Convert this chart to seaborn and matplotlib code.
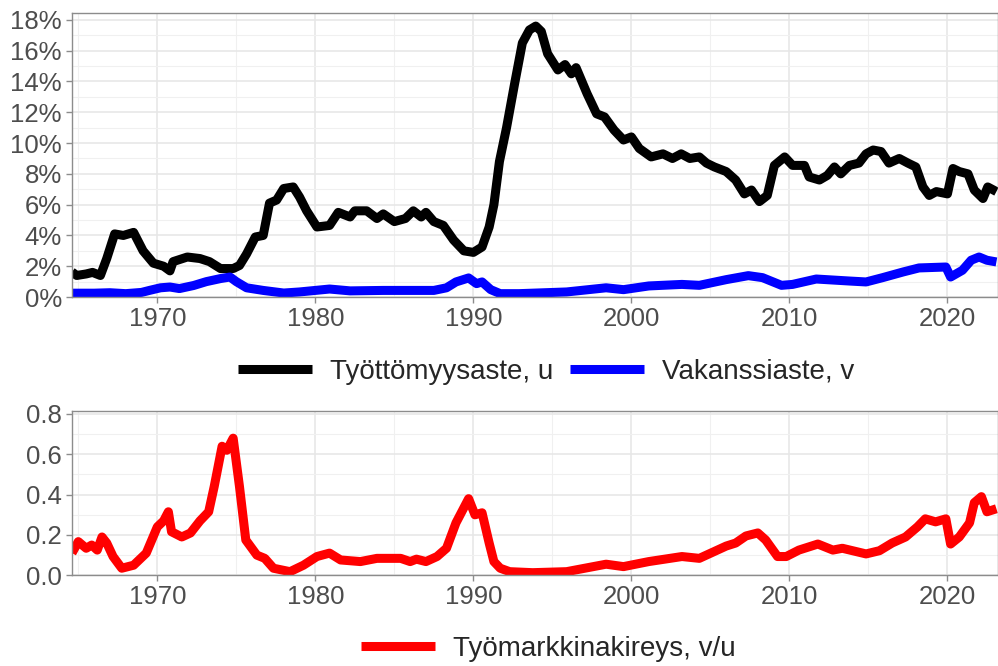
import matplotlib
matplotlib.use("Agg")
import matplotlib.pyplot as plt
import seaborn as sns
import numpy as np
import pandas as pd
from matplotlib.ticker import PercentFormatter, FormatStrFormatter, MultipleLocator

# ---------------- data ----------------
u_year = [1964.6, 1964.9, 1965.5, 1965.9, 1966.4, 1966.8, 1967.3, 1967.85, 1968.5, 1969.1,
          1969.75, 1970.4, 1970.8, 1971.0, 1971.9, 1972.7, 1973.3, 1974.0, 1974.8, 1975.2,
          1975.65, 1976.2, 1976.7, 1977.1, 1977.55, 1978.0, 1978.6, 1979.0, 1979.45, 1980.1,
          1980.9, 1981.45, 1982.2, 1982.5, 1983.25, 1983.9, 1984.3, 1985.0, 1985.7, 1986.2,
          1986.7, 1987.0, 1987.5, 1988.1, 1988.75, 1989.4, 1990.0, 1990.55, 1991.0, 1991.3,
          1991.65, 1992.1, 1992.6, 1993.1, 1993.55, 1993.95, 1994.3, 1994.7, 1995.35, 1995.8,
          1996.2, 1996.5, 1997.2, 1997.8, 1998.3, 1998.9, 1999.5, 2000.0, 2000.5, 2001.25,
          2002.0, 2002.6, 2003.15, 2003.7, 2004.3, 2004.75, 2005.25, 2006.0, 2006.6, 2007.15,
          2007.6, 2008.1, 2008.6, 2009.05, 2009.7, 2010.2, 2010.95, 2011.25, 2011.9, 2012.4,
          2012.85, 2013.25, 2013.8, 2014.4, 2014.85, 2015.3, 2015.8, 2016.3, 2016.95, 2017.5,
          2018.0, 2018.45, 2018.85, 2019.3, 2020.0, 2020.35, 2020.75, 2021.3, 2021.7, 2022.25,
          2022.55, 2023.1]
u_val = [1.63, 1.4, 1.5, 1.6, 1.4, 2.5, 4.1, 4.0, 4.2, 3.0,
         2.2, 2.0, 1.7, 2.3, 2.6, 2.5, 2.3, 1.85, 1.85, 2.05,
         2.8, 3.9, 4.0, 6.1, 6.3, 7.05, 7.15, 6.5, 5.6, 4.55,
         4.65, 5.5, 5.2, 5.6, 5.6, 5.1, 5.4, 4.9, 5.1, 5.6,
         5.2, 5.5, 4.9, 4.65, 3.7, 3.0, 2.9, 3.25, 4.55, 6.0,
         8.8, 11.0, 13.8, 16.5, 17.35, 17.6, 17.25, 15.8, 14.75, 15.1,
         14.5, 14.9, 13.2, 11.9, 11.7, 10.85, 10.2, 10.4, 9.65, 9.1,
         9.3, 9.0, 9.3, 9.0, 9.1, 8.7, 8.45, 8.15, 7.6, 6.7,
         6.95, 6.2, 6.6, 8.55, 9.1, 8.55, 8.55, 7.8, 7.6, 7.9,
         8.45, 8.0, 8.55, 8.7, 9.3, 9.55, 9.45, 8.7, 9.0, 8.7,
         8.45, 7.15, 6.6, 6.85, 6.7, 8.35, 8.15, 8.0, 6.95, 6.4,
         7.15, 6.85]

v_year = [1964.6, 1966.0, 1967.0, 1968.0, 1969.0, 1969.5, 1970.2, 1970.8, 1971.4, 1972.3,
          1973.1, 1974.0, 1974.6, 1975.0, 1975.65, 1976.7, 1978.0, 1979.0, 1980.9, 1982.2,
          1984.3, 1986.4, 1987.5, 1988.3, 1988.9, 1989.7, 1990.2, 1990.55, 1991.1, 1991.7,
          1992.9, 1995.9, 1998.4, 1999.5, 2001.1, 2003.2, 2004.3, 2006.0, 2007.4, 2008.3,
          2009.5, 2010.2, 2011.7, 2013.8, 2014.85, 2015.9, 2017.2, 2018.2, 2019.9, 2020.2,
          2020.95, 2021.5, 2022.0, 2022.5, 2023.1]
v_val = [0.25, 0.25, 0.28, 0.22, 0.3, 0.43, 0.6, 0.65, 0.55, 0.75,
         1.0, 1.2, 1.3, 1.0, 0.6, 0.43, 0.26, 0.33, 0.52, 0.4,
         0.43, 0.43, 0.43, 0.6, 0.98, 1.24, 0.87, 0.98, 0.48, 0.22,
         0.22, 0.33, 0.6, 0.48, 0.72, 0.82, 0.76, 1.13, 1.39, 1.26,
         0.76, 0.82, 1.17, 1.04, 0.98, 1.26, 1.63, 1.89, 1.95, 1.3,
         1.74, 2.39, 2.6, 2.39, 2.28]

r_year = [1964.6, 1965.0, 1965.5, 1965.85, 1966.2, 1966.5, 1966.8, 1967.2, 1967.75, 1968.5,
          1969.3, 1970.0, 1970.4, 1970.7, 1970.9, 1971.55, 1972.1, 1972.7, 1973.25, 1973.6,
          1974.1, 1974.4, 1974.8, 1975.2, 1975.6, 1976.3, 1976.8, 1977.35, 1978.4, 1979.25,
          1980.1, 1980.9, 1981.6, 1982.85, 1983.9, 1985.4, 1986.0, 1986.4, 1987.0, 1987.7,
          1988.3, 1988.9, 1989.7, 1990.1, 1990.55, 1991.0, 1991.3, 1991.7, 1992.3, 1993.75,
          1995.9, 1998.4, 1999.5, 2001.1, 2003.2, 2004.3, 2006.0, 2006.6, 2007.25, 2008.0,
          2008.5, 2009.25, 2009.8, 2010.6, 2011.8, 2012.75, 2013.35, 2014.85, 2015.7, 2016.5,
          2017.35, 2018.1, 2018.6, 2019.25, 2019.9, 2020.2, 2020.75, 2021.4, 2021.7, 2022.15,
          2022.5, 2023.1]
r_val = [0.11, 0.167, 0.134, 0.15, 0.125, 0.19, 0.16, 0.093, 0.035, 0.05,
         0.11, 0.24, 0.27, 0.315, 0.216, 0.19, 0.21, 0.27, 0.315, 0.44,
         0.64, 0.62, 0.68, 0.44, 0.175, 0.1, 0.084, 0.035, 0.018, 0.05,
         0.093, 0.11, 0.076, 0.068, 0.084, 0.084, 0.068, 0.08, 0.068, 0.093,
         0.134, 0.26, 0.38, 0.3, 0.31, 0.16, 0.068, 0.035, 0.018, 0.013,
         0.018, 0.055, 0.043, 0.068, 0.093, 0.084, 0.145, 0.16, 0.195, 0.21,
         0.175, 0.093, 0.093, 0.125, 0.155, 0.125, 0.134, 0.106, 0.122, 0.16,
         0.19, 0.24, 0.28, 0.265, 0.28, 0.155, 0.19, 0.26, 0.36, 0.39,
         0.315, 0.33]

u_label = "Työttömyysaste, u"
v_label = "Vakanssiaste, v"
r_label = "Työmarkkinakireys, v/u"
x_major = [1970, 1980, 1990, 2000, 2010, 2020]

# ---------------- style ----------------
sns.set_theme(style="white")
plt.rcParams['font.family'] = ['Liberation Sans', 'DejaVu Sans']

fig = plt.figure(figsize=(9.98, 6.66), dpi=100)
ax1 = fig.add_axes([0.0718, 0.554, 0.9282, 0.4265])
ax2 = fig.add_axes([0.0718, 0.1362, 0.9282, 0.2472])

LW = 6.5
border_c = "#8C8C8C"
tick_c = "#4D4D4D"

sns.lineplot(x=u_year, y=u_val, ax=ax1, color="black", lw=LW, label=u_label,
             solid_joinstyle="round", solid_capstyle="butt")
sns.lineplot(x=v_year, y=v_val, ax=ax1, color="#0000FF", lw=LW, label=v_label,
             solid_joinstyle="round", solid_capstyle="butt")
sns.lineplot(x=r_year, y=r_val, ax=ax2, color="#FF0000", lw=LW, label=r_label,
             solid_joinstyle="round", solid_capstyle="butt")

for ax in (ax1, ax2):
    ax.set_xlim(1964.58, 2023.2)
    ax.set_xticks(x_major)
    ax.xaxis.set_minor_locator(MultipleLocator(5))
    ax.set_xlabel("")
    ax.set_ylabel("")
    ax.grid(which="major", color="#E6E6E6", lw=1.1)
    ax.grid(which="minor", color="#F0F0F0", lw=0.8)
    ax.set_axisbelow(True)
    for s in ax.spines.values():
        s.set_color(border_c)
        s.set_linewidth(1.0)
    ax.tick_params(axis="both", which="major", labelsize=18.5, labelcolor=tick_c,
                   color=border_c, length=4, width=1, pad=3, left=True, bottom=True)
    ax.tick_params(axis="both", which="minor", length=0)

ax1.set_ylim(0, 18.45)
ax1.yaxis.set_major_locator(MultipleLocator(2))
ax1.yaxis.set_minor_locator(MultipleLocator(1))
ax1.yaxis.set_major_formatter(PercentFormatter(decimals=0))

ax2.set_ylim(0, 0.8165)
ax2.yaxis.set_major_locator(MultipleLocator(0.2))
ax2.yaxis.set_minor_locator(MultipleLocator(0.1))
ax2.yaxis.set_major_formatter(FormatStrFormatter("%.1f"))

leg_kw = dict(frameon=False, fontsize=20, handlelength=2.66, handletextpad=0.65,
              columnspacing=0.6, borderpad=0, borderaxespad=0, loc="center")
ax1.legend(ncol=2, bbox_to_anchor=(546 / 998, 1 - 372 / 666),
           bbox_transform=fig.transFigure, **leg_kw)
ax2.legend(ncol=1, bbox_to_anchor=(548 / 998, 1 - 649 / 666),
           bbox_transform=fig.transFigure, **leg_kw)

fig.savefig("out.png", dpi=100)
